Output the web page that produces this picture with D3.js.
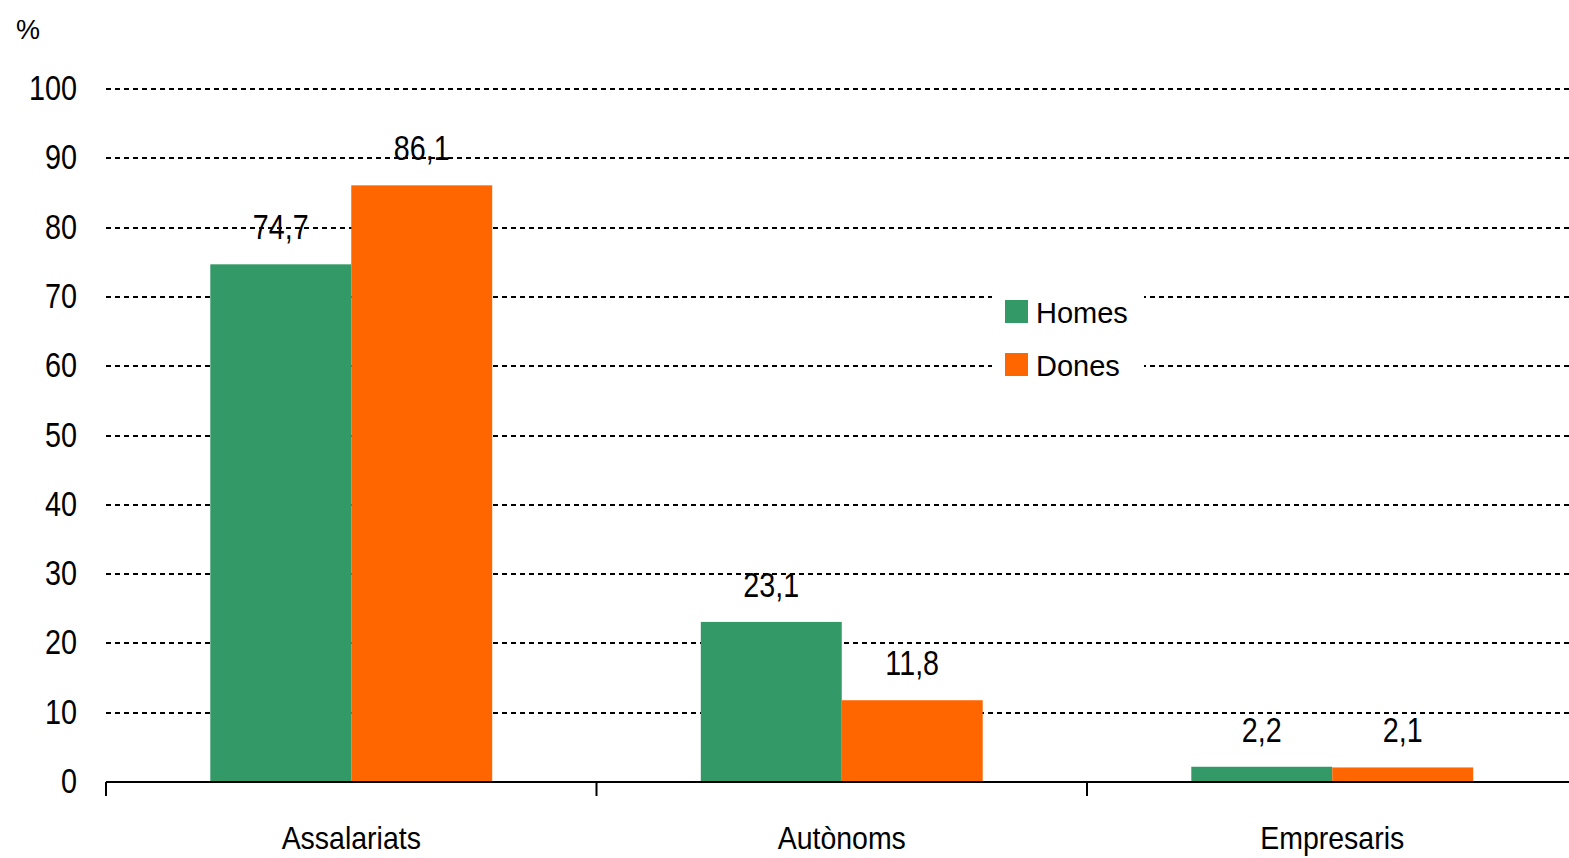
<!DOCTYPE html>
<html>
<head>
<meta charset="utf-8">
<script src="https://cdn.jsdelivr.net/npm/d3@7"></script>
<style>
  body { margin: 0; background: #fff; }
  text { font-family: "Liberation Sans", Arial, sans-serif; fill: #000; }
</style>
</head>
<body>
<svg id="chart" width="1569" height="858"></svg>
<script>
const categories = ["Assalariats", "Autònoms", "Empresaris"];
const seriesNames = ["Homes", "Dones"];
const homes = [74.7, 23.1, 2.2];
const dones = [86.1, 11.8, 2.1];
const yTicks = [0, 10, 20, 30, 40, 50, 60, 70, 80, 90, 100];

const colors = { Homes: "#339966", Dones: "#ff6600" };

const svg = d3.select("#chart");
const margin = { left: 106, right: -8.5, top: 89, bottom: 76 };
const width = 1569 - margin.left - margin.right;
const height = 858 - margin.top - margin.bottom;

// narrow look: squeeze text horizontally
const squeeze = (sx) => (sel) =>
  sel.attr("transform", (d, i, n) => {
    const el = d3.select(n[i]);
    return `translate(${el.attr("data-x")},${el.attr("data-y")}) scale(${sx},1)`;
  });

const g = svg.append("g").attr("transform", `translate(${margin.left},${margin.top})`);

const x = d3.scaleBand().domain(categories).range([0, width]).paddingInner(0).paddingOuter(0);
const x1 = d3.scaleBand().domain(seriesNames).range([0, x.bandwidth()]).paddingInner(0).paddingOuter(0.74);
const y = d3.scaleLinear().domain([0, 100]).range([height, 0]);

// gridlines
g.selectAll("line.grid")
  .data(yTicks.filter((d) => d > 0))
  .enter()
  .append("line")
  .attr("class", "grid")
  .attr("x1", 0)
  .attr("x2", width)
  .attr("y1", (d) => Math.round(y(d)))
  .attr("y2", (d) => Math.round(y(d)))
  .attr("stroke", "#000")
  .attr("stroke-width", 2)
  .attr("stroke-dasharray", "5,4");

// y tick labels
g.selectAll("text.ytick")
  .data(yTicks)
  .enter()
  .append("text")
  .attr("class", "ytick")
  .attr("data-x", -29)
  .attr("data-y", (d) => y(d) + 11)
  .attr("text-anchor", "end")
  .attr("font-size", 36)
  .text((d) => d)
  .call(squeeze(0.8));

svg.append("text")
  .attr("x", 16)
  .attr("y", 39)
  .attr("font-size", 27)
  .text("%");

// bars
const data = categories.map((c, i) => ({ cat: c, values: [
  { name: "Homes", value: homes[i] },
  { name: "Dones", value: dones[i] },
] }));

const groups = g.selectAll("g.cat")
  .data(data)
  .enter()
  .append("g")
  .attr("class", "cat")
  .attr("transform", (d) => `translate(${x(d.cat)},0)`);

groups.selectAll("rect")
  .data((d) => d.values)
  .enter()
  .append("rect")
  .attr("x", (d) => x1(d.name))
  .attr("width", x1.bandwidth())
  .attr("y", (d) => y(d.value))
  .attr("height", (d) => height - y(d.value))
  .attr("fill", (d) => colors[d.name]);

groups.selectAll("text.val")
  .data((d) => d.values)
  .enter()
  .append("text")
  .attr("class", "val")
  .attr("data-x", (d) => x1(d.name) + x1.bandwidth() / 2)
  .attr("data-y", (d) => y(d.value) - 25)
  .attr("text-anchor", "middle")
  .attr("font-size", 35)
  .text((d) => d3.format(".1f")(d.value).replace(".", ","))
  .call(squeeze(0.82));

// x axis
g.append("line")
  .attr("x1", 0)
  .attr("x2", width)
  .attr("y1", height)
  .attr("y2", height)
  .attr("stroke", "#000")
  .attr("stroke-width", 2);

g.selectAll("line.xtick")
  .data(categories)
  .enter()
  .append("line")
  .attr("class", "xtick")
  .attr("x1", (d) => x(d))
  .attr("x2", (d) => x(d))
  .attr("y1", height)
  .attr("y2", height + 14)
  .attr("stroke", "#000")
  .attr("stroke-width", 2);

g.selectAll("text.xlab")
  .data(categories)
  .enter()
  .append("text")
  .attr("class", "xlab")
  .attr("data-x", (d) => x(d) + x.bandwidth() / 2)
  .attr("data-y", height + 67)
  .attr("text-anchor", "middle")
  .attr("font-size", 32)
  .text((d) => d)
  .call(squeeze(0.89));

// legend
const legend = svg.append("g").attr("transform", "translate(992,284)");
legend.append("rect")
  .attr("width", 152)
  .attr("height", 102)
  .attr("fill", "#fff");

const items = legend.selectAll("g.item")
  .data(seriesNames)
  .enter()
  .append("g")
  .attr("class", "item")
  .attr("transform", (d, i) => `translate(13,${16 + i * 53})`);

items.append("rect")
  .attr("width", 23)
  .attr("height", 23)
  .attr("fill", (d) => colors[d]);

items.append("text")
  .attr("x", 31)
  .attr("y", 23)
  .attr("font-size", 29)
  .text((d) => d);
</script>
</body>
</html>
